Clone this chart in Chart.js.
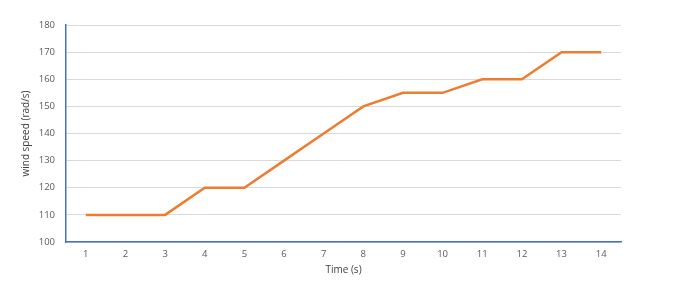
<!DOCTYPE html>
<html>
<head>
<meta charset="utf-8">
<script src="https://cdn.jsdelivr.net/npm/chart.js@4/dist/chart.umd.min.js"></script>
<style>
  html, body { margin: 0; padding: 0; background: #fff; }
  #wrap { width: 679px; height: 293px; }
</style>
</head>
<body>
<div id="wrap"><canvas id="graphCanvas" width="679" height="293"></canvas></div>
<script>
let timeLabels = ['1', '2', '3', '4', '5', '6', '7', '8', '9', '10', '11', '12', '13', '14'];
let windSpeed = [110, 110, 110, 120, 120, 130, 140, 150, 155, 155, 160, 160, 170, 170];
let yTicks = [100, 110, 120, 130, 140, 150, 160, 170, 180];

let chartdata = {
  labels: timeLabels,
  datasets: [{
    label: 'wind speed',
    borderColor: '#ED7D31',
    backgroundColor: '#ED7D31',
    borderWidth: 2.5,
    pointRadius: 0,
    fill: false,
    tension: 0,
    data: windSpeed
  }]
};

let tickFont = { family: 'Open Sans', size: 9.5 };
let titleFont = { family: 'Open Sans', size: 10 };

let graphTarget = document.getElementById('graphCanvas');
let lineGraph = new Chart(graphTarget, {
  type: 'line',
  data: chartdata,
  options: {
    responsive: false,
    animation: false,
    layout: { padding: { left: 0, right: 58, top: 25, bottom: 17 } },
    plugins: { legend: { display: false }, tooltip: { enabled: false } },
    scales: {
      x: {
        offset: true,
        grid: { display: false, drawTicks: false },
        border: { color: '#4472C4', width: 1.5 },
        ticks: { color: '#595959', font: tickFont, padding: 7, maxRotation: 0 },
        title: { display: true, text: 'Time (s)', color: '#404040', font: titleFont, padding: { top: 3, bottom: 0 } },
        afterFit: function(axis) { axis.height = 34; }
      },
      y: {
        min: 100,
        max: 180,
        afterBuildTicks: function(axis) { axis.ticks = yTicks.map(v => ({ value: v })); },
        grid: { color: '#D9D9D9', drawTicks: false },
        border: { color: '#4472C4', width: 1.5 },
        ticks: { color: '#595959', font: tickFont, padding: 11 },
        title: { display: true, text: 'wind speed (rad/s)', color: '#404040', font: titleFont, padding: { top: 20, bottom: 0 } },
        afterFit: function(axis) { axis.width = 66; }
      }
    }
  }
});
</script>
</body>
</html>
